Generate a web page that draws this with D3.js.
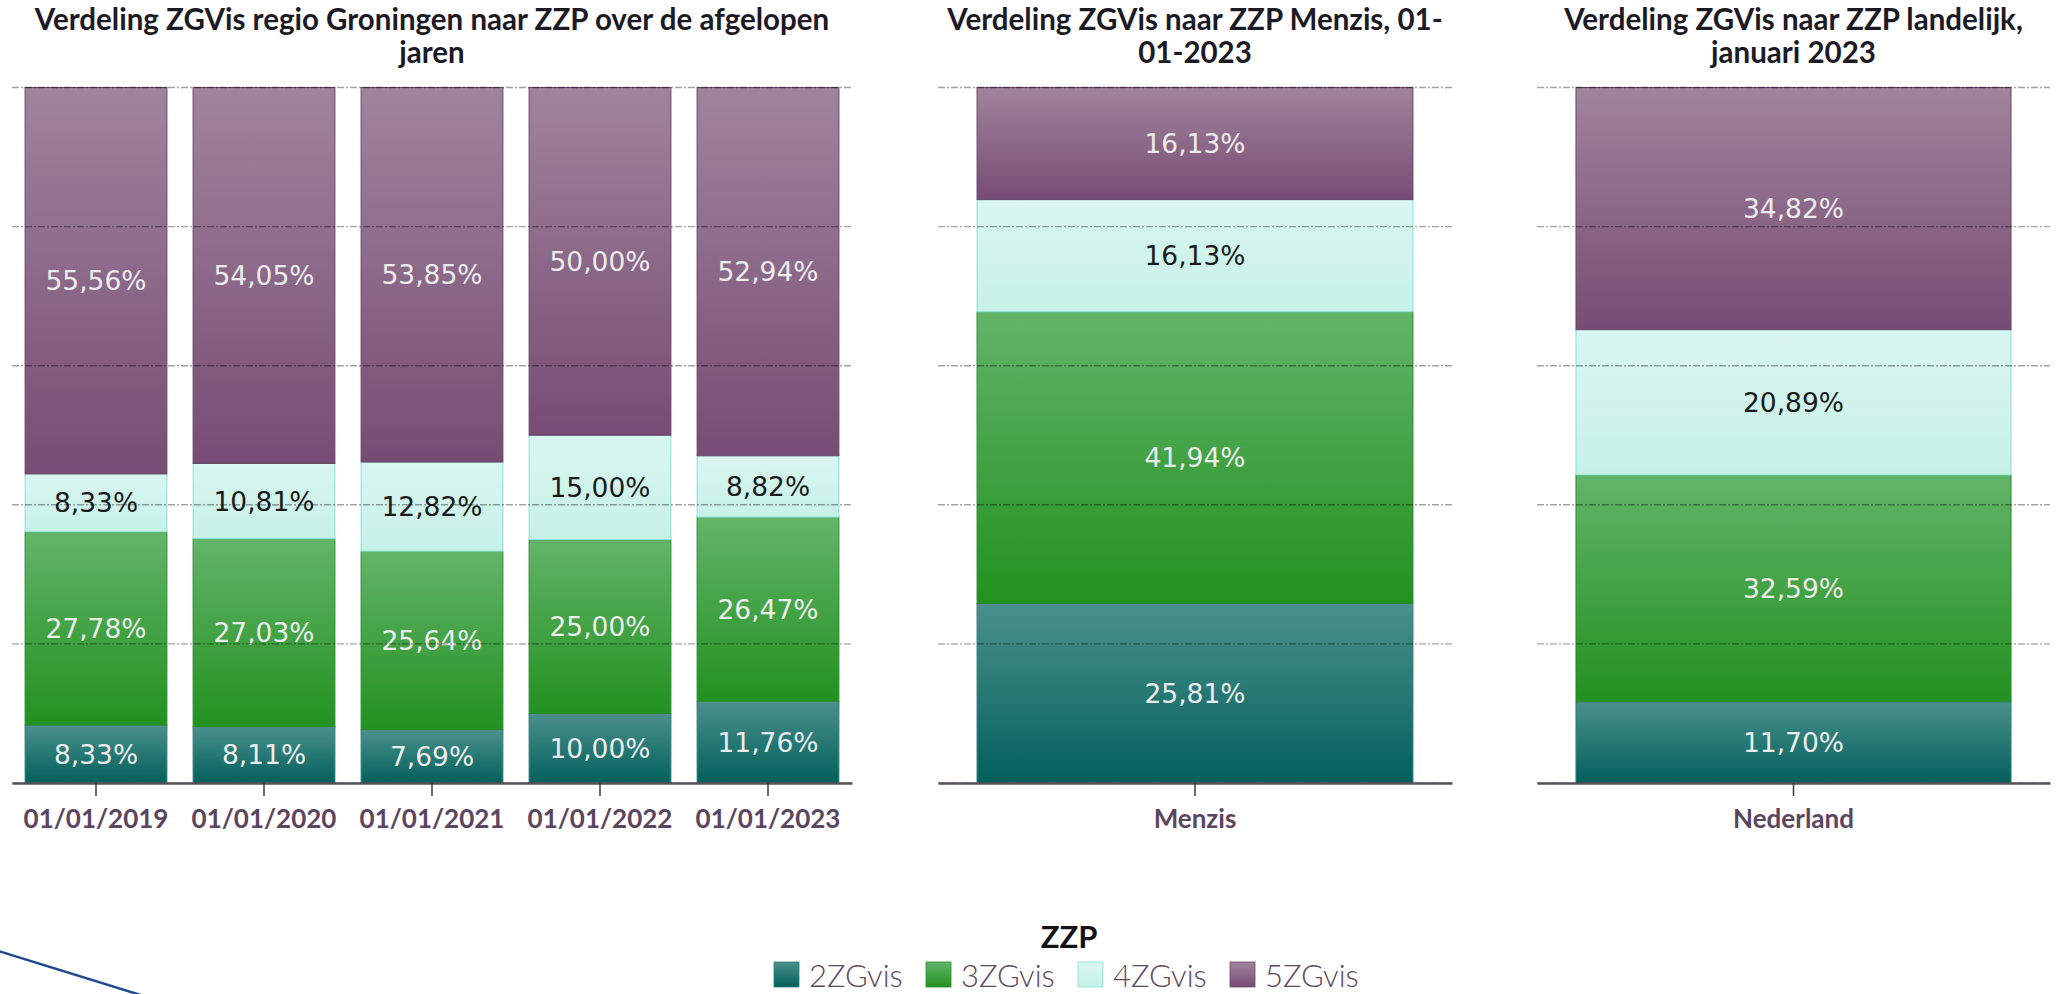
<!DOCTYPE html>
<html lang="nl">
<head>
<meta charset="utf-8">
<title>Verdeling ZGVis naar ZZP</title>
<script src="https://d3js.org/d3.v7.min.js"></script>
<style>
  html, body { margin: 0; padding: 0; background: #fff; }
  svg { display: block; }
  .title { font-family: Lato, sans-serif; font-weight: 700; font-size: 29.5px; fill: #1c1a24; }
  .val { font-family: "DejaVu Sans", sans-serif; font-size: 26.5px; }
  .axis .domain { stroke: #57525a; stroke-width: 2.5px; }
  .axis .tick line { stroke: #3a3a3a; stroke-width: 1.5px; }
  .axis .tick text { font-family: Lato, sans-serif; font-weight: 700; font-size: 26px; fill: #5b4660; }
  .grid { stroke: rgba(0,0,0,0.36); stroke-width: 1.4px; stroke-dasharray: 7,2,2,2; }
  .leg-title { font-family: Lato, sans-serif; font-weight: 700; font-size: 31px; fill: #141218; }
  .leg-text { font-family: Lato, sans-serif; font-weight: 300; font-size: 31px; fill: #5b4660; }
</style>
</head>
<body>
<div id="chart"></div>
<script>
// ---- data ----
var zzp = ["2ZGvis", "3ZGvis", "4ZGvis", "5ZGvis"];

var jaren = ["01/01/2019", "01/01/2020", "01/01/2021", "01/01/2022", "01/01/2023"];
var regio2 = [8.33, 8.11, 7.69, 10.00, 11.76];
var regio3 = [27.78, 27.03, 25.64, 25.00, 26.47];
var regio4 = [8.33, 10.81, 12.82, 15.00, 8.82];
var regio5 = [55.56, 54.05, 53.85, 50.00, 52.94];

var menzisCats = ["Menzis"];
var menzisValues = [25.81, 41.94, 16.13, 16.13];

var landCats = ["Nederland"];
var landValues = [11.70, 32.59, 20.89, 34.82];

var yTicks = [0, 20, 40, 60, 80, 100];

var titleRegio = ["Verdeling ZGVis regio Groningen naar ZZP over de afgelopen", "jaren"];
var titleMenzis = ["Verdeling ZGVis naar ZZP Menzis, 01-", "01-2023"];
var titleLand = ["Verdeling ZGVis naar ZZP landelijk,", "januari 2023"];

// ---- style ----
var grad = {
  "2ZGvis": ["#4b908c", "#02605b"],
  "3ZGvis": ["#63b46a", "#22911f"],
  "4ZGvis": ["#d9f6f0", "#c7f1e8"],
  "5ZGvis": ["#a0849c", "#774c74"]
};
var border = { "2ZGvis": "#2f7c78", "3ZGvis": "#2b8a2c", "4ZGvis": "#86e3d3", "5ZGvis": "#6b4768" };
var textColor = { "2ZGvis": "#ececec", "3ZGvis": "#ececec", "4ZGvis": "#1b1b1b", "5ZGvis": "#ececec" };

var W = 2060, H = 994;
var top0 = 87.5, base = 783;

var svg = d3.select("#chart").append("svg")
    .attr("width", W)
    .attr("height", H);

var defs = svg.append("defs");
zzp.forEach(function(k) {
  var g = defs.append("linearGradient")
      .attr("id", "g" + k)
      .attr("x1", 0).attr("y1", 0).attr("x2", 0).attr("y2", 1);
  g.append("stop").attr("offset", "0%").attr("stop-color", grad[k][0]);
  g.append("stop").attr("offset", "100%").attr("stop-color", grad[k][1]);
});

var nl = d3.formatLocale({ decimal: ",", thousands: ".", grouping: [3], currency: ["€", ""] });
var fmt = nl.format(".2f");

var y = d3.scaleLinear().domain([0, 100]).range([base, top0]);

function rows(cats, series) {
  return cats.map(function(c, i) {
    var r = { cat: c };
    zzp.forEach(function(k, j) { r[k] = series[j][i]; });
    return r;
  });
}

function panel(cats, series, x0, x1, title) {
  var data = rows(cats, series);
  var x = d3.scaleBand()
      .domain(cats)
      .range([x0, x1])
      .paddingInner(0.15)
      .paddingOuter(0.075);

  var stacked = d3.stack().keys(zzp)(data);
  var g = svg.append("g");

  var layer = g.selectAll(".layer")
    .data(stacked)
    .enter().append("g")
      .attr("class", "layer");

  layer.selectAll("rect")
    .data(function(d) { return d.map(function(p) { p.key = d.key; return p; }); })
    .enter().append("rect")
      .attr("x", function(d) { return x(d.data.cat) + 0.5; })
      .attr("y", function(d) { return y(d[1]); })
      .attr("width", x.bandwidth() - 1)
      .attr("height", function(d) { return y(d[0]) - y(d[1]); })
      .attr("fill", function(d) { return "url(#g" + d.key + ")"; })
      .attr("stroke", function(d) { return border[d.key]; })
      .attr("stroke-width", 1);

  // gridlines on top of the bars
  g.selectAll(".grid")
    .data(yTicks)
    .enter().append("line")
      .attr("class", "grid")
      .attr("x1", x0).attr("x2", x1)
      .attr("y1", function(d) { return y(d); })
      .attr("y2", function(d) { return y(d); });

  layer.selectAll("text")
    .data(function(d) { return d; })
    .enter().append("text")
      .attr("class", "val")
      .attr("x", function(d) { return x(d.data.cat) + x.bandwidth() / 2; })
      .attr("y", function(d) { return (y(d[0]) + y(d[1])) / 2; })
      .attr("text-anchor", "middle")
      .attr("dominant-baseline", "central")
      .attr("fill", function(d) { return textColor[d.key]; })
      .text(function(d) { return fmt(d[1] - d[0]) + "%"; });

  g.append("g")
      .attr("class", "axis")
      .attr("transform", "translate(0," + base + ")")
      .call(d3.axisBottom(x).tickSize(13).tickSizeOuter(0).tickPadding(14));

  var t = g.append("text")
      .attr("class", "title")
      .attr("text-anchor", "middle");
  t.selectAll("tspan")
    .data(title)
    .enter().append("tspan")
      .attr("x", (x0 + x1) / 2)
      .attr("y", function(d, i) { return 30 + i * 33; })
      .text(function(d) { return d; });
}

panel(jaren, [regio2, regio3, regio4, regio5], 12, 852, titleRegio);
panel(menzisCats, [[menzisValues[0]], [menzisValues[1]], [menzisValues[2]], [menzisValues[3]]], 938, 1452, titleMenzis);
panel(landCats, [[landValues[0]], [landValues[1]], [landValues[2]], [landValues[3]]], 1537, 2050, titleLand);

// ---- legend ----
var legend = svg.append("g");
legend.append("text")
    .attr("class", "leg-title")
    .attr("x", 1069)
    .attr("y", 948)
    .attr("text-anchor", "middle")
    .text("ZZP");

var item = legend.selectAll(".item")
  .data(zzp)
  .enter().append("g")
    .attr("class", "item")
    .attr("transform", function(d, i) { return "translate(" + (774 + i * 152) + ",962)"; });
item.append("rect")
    .attr("width", 25).attr("height", 25)
    .attr("fill", function(d) { return "url(#g" + d + ")"; })
    .attr("stroke", function(d) { return border[d]; })
    .attr("stroke-width", 0.8);
item.append("text")
    .attr("class", "leg-text")
    .attr("x", 35)
    .attr("y", 25)
    .text(function(d) { return d; });

// decorative line bottom left
svg.append("line")
    .attr("x1", -5).attr("y1", 950)
    .attr("x2", 160).attr("y2", 1001)
    .attr("stroke", "#1f4a8e")
    .attr("stroke-width", 2.5);
</script>
</body>
</html>
